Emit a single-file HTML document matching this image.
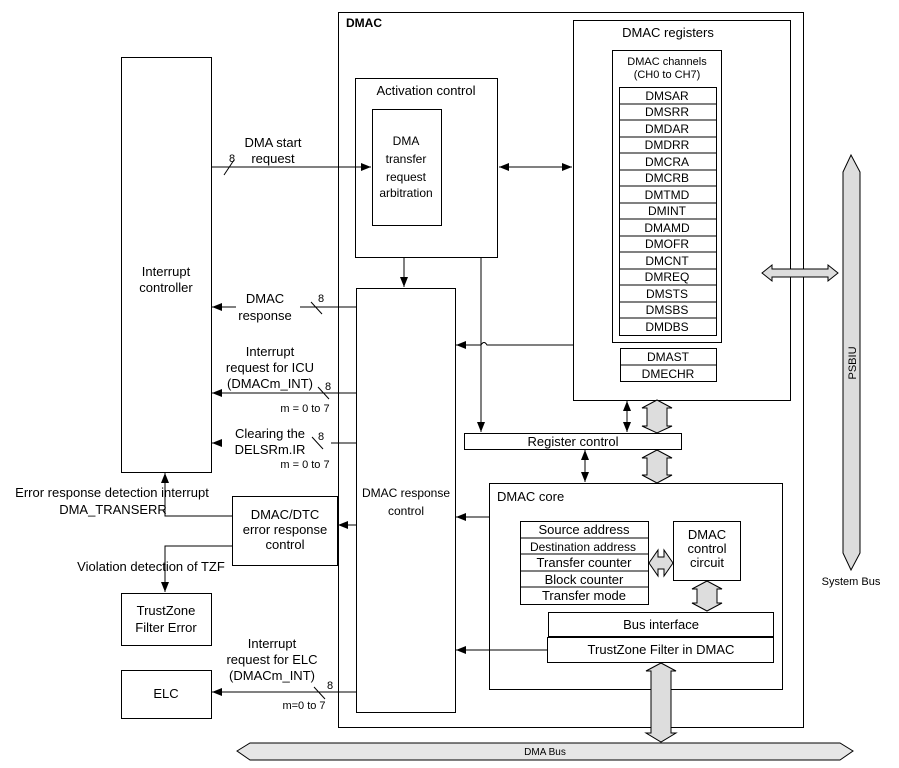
<!DOCTYPE html>
<html><head><meta charset="utf-8"><style>body{margin:0;background:#fff}svg{display:block}text{font-family:"Liberation Sans",sans-serif;fill:#000}</style></head><body>
<svg width="899" height="768" viewBox="0 0 899 768" xmlns="http://www.w3.org/2000/svg">
<defs>
<marker id="a" markerWidth="10" markerHeight="8" refX="10" refY="4" orient="auto" markerUnits="userSpaceOnUse"><path d="M0,0L10,4L0,8z" fill="#000"/></marker>
<marker id="b" markerWidth="10" markerHeight="8" refX="0" refY="4" orient="auto" markerUnits="userSpaceOnUse"><path d="M10,0L0,4L10,8z" fill="#000"/></marker>
</defs>
<g fill="none" stroke="#000" stroke-width="1">
<rect x="121.5" y="57.5" width="90" height="415"/>
<rect x="338.5" y="12.5" width="465" height="715"/>
<rect x="355.5" y="78.5" width="142" height="179"/>
<rect x="372.5" y="109.5" width="69" height="116"/>
<rect x="573.5" y="20.5" width="217" height="380"/>
<rect x="612.5" y="50.5" width="109" height="292"/>
<rect x="356.5" y="288.5" width="99" height="424"/>
<rect x="464.5" y="433.5" width="217" height="16"/>
<rect x="489.5" y="483.5" width="293" height="206"/>
<rect x="673.5" y="521.5" width="67" height="59"/>
<rect x="548.5" y="612.5" width="225" height="24"/>
<rect x="547.5" y="637.5" width="226" height="25"/>
<rect x="232.5" y="496.5" width="105" height="69"/>
<rect x="121.5" y="593.5" width="90" height="52"/>
<rect x="121.5" y="670.5" width="90" height="48"/>
<rect x="619.5" y="87.5" width="97" height="248"/>
<rect x="520.5" y="521.5" width="128" height="83"/>
<rect x="620.5" y="348.5" width="96" height="33"/>
<path d="M620,365H716"/>
<path d="M619,104H716M619,120H716M619,137H716M619,153H716M619,170H716M619,186H716M619,203H716M619,219H716M619,236H716M619,252H716M619,269H716M619,285H716M619,302H716M619,318H716"/>
<path d="M520,538H648M520,554H648M520,571H648M520,587H648"/>
<path d="M211,167H371" marker-end="url(#a)"/>
<path d="M224,175L234,160"/>
<path d="M499,167H572" marker-start="url(#b)" marker-end="url(#a)"/>
<path d="M404,258V287" marker-end="url(#a)"/>
<path d="M481,258V432" marker-end="url(#a)"/>
<path d="M356,307H300"/><path d="M236,307H212" marker-end="url(#a)"/>
<path d="M311,302L322,314"/>
<path d="M356,393H212" marker-end="url(#a)"/>
<path d="M318,387L329,399"/>
<path d="M356,443H331"/><path d="M222,443H212" marker-end="url(#a)"/>
<path d="M312,437L323,449"/>
<path d="M573,345H487Q484,340 481,345H456" marker-end="url(#a)"/>
<path d="M489,517H456" marker-end="url(#a)"/>
<path d="M547,650H456" marker-end="url(#a)"/>
<path d="M356,525H338" marker-end="url(#a)"/>
<path d="M232,516H165V473" marker-end="url(#a)"/>
<path d="M232,546H165V592" marker-end="url(#a)"/>
<path d="M356,692H212" marker-end="url(#a)"/>
<path d="M314,687L325,699"/>
<path d="M627,401V432" marker-start="url(#b)" marker-end="url(#a)"/>
<path d="M585,450V482" marker-start="url(#b)" marker-end="url(#a)"/>
</g>
<g fill="#ddd" stroke="#000" stroke-width="1">
<path d="M657,400L672,408H667V426H672L657,433L642,426H647V408H642Z"/>
<path d="M657,450L672,458H667V475H672L657,483L642,475H647V458H642Z"/>
<path d="M707,581L722,589H717V603H722L707,611L692,603H697V589H692Z"/>
<path d="M649,563L658,550V557H664V550L673,563L664,576V569H658V576Z"/>
<path d="M661,663L676,671H671V733H676L661,742L646,733H651V671H646Z"/>
<path d="M762,273L772,265V269H828V265L838,273L828,281V277H772V281Z"/>
<path d="M851,155L860,172V553L851,570L843,553V172L843,172Z"/>
<path d="M237,751L250,743H840L853,751L840,760H250Z" fill="#e6e6e6"/>
</g>
<g font-size="13" text-anchor="middle">
<text x="166" y="276">Interrupt</text><text x="166" y="292">controller</text>
<text x="364" y="27" font-weight="bold" font-size="12">DMAC</text>
<text x="426" y="95">Activation control</text>
<text x="406" y="145" font-size="12">DMA</text><text x="406" y="163" font-size="12">transfer</text><text x="406" y="181" font-size="12">request</text><text x="406" y="197" font-size="12">arbitration</text>
<text x="668" y="37">DMAC registers</text>
<text x="667" y="65" font-size="11">DMAC channels</text><text x="667" y="78" font-size="11">(CH0 to CH7)</text>
<g font-size="12">
<text x="667" y="100">DMSAR</text><text x="667" y="116">DMSRR</text><text x="667" y="133">DMDAR</text><text x="667" y="149">DMDRR</text><text x="667" y="166">DMCRA</text><text x="667" y="182">DMCRB</text><text x="667" y="199">DMTMD</text><text x="667" y="215">DMINT</text><text x="667" y="232">DMAMD</text><text x="667" y="248">DMOFR</text><text x="667" y="265">DMCNT</text><text x="667" y="281">DMREQ</text><text x="667" y="298">DMSTS</text><text x="667" y="314">DMSBS</text><text x="667" y="331">DMDBS</text>
<text x="668" y="361">DMAST</text><text x="668" y="378">DMECHR</text>
</g>
<text x="273" y="147">DMA start</text><text x="273" y="163">request</text>
<text x="232" y="162" font-size="11">8</text>
<text x="265" y="303">DMAC</text><text x="265" y="320">response</text><text x="321" y="302" font-size="11">8</text>
<text x="270" y="356">Interrupt</text><text x="270" y="372">request for ICU</text><text x="270" y="388">(DMACm_INT)</text><text x="328" y="390" font-size="11">8</text>
<text x="305" y="412" font-size="11">m = 0 to 7</text>
<text x="270" y="438">Clearing the</text><text x="270" y="454">DELSRm.IR</text><text x="321" y="440" font-size="11">8</text>
<text x="305" y="468" font-size="11">m = 0 to 7</text>
<text x="406" y="497" font-size="12">DMAC response</text><text x="406" y="515" font-size="12">control</text>
<text x="112" y="497">Error response detection interrupt</text><text x="113" y="514">DMA_TRANSERR</text>
<text x="285" y="519">DMAC/DTC</text><text x="285" y="534">error response</text><text x="285" y="549">control</text>
<text x="151" y="571">Violation detection of TZF</text>
<text x="166" y="615">TrustZone</text><text x="166" y="632">Filter Error</text>
<text x="166" y="698">ELC</text>
<text x="272" y="648">Interrupt</text><text x="272" y="664">request for ELC</text><text x="272" y="680">(DMACm_INT)</text><text x="330" y="689" font-size="11">8</text>
<text x="304" y="709" font-size="11">m=0 to 7</text>
<text x="573" y="446">Register control</text>
<text x="497" y="501" text-anchor="start">DMAC core</text>
<text x="584" y="534">Source address</text><text x="583" y="551" font-size="12">Destination address</text><text x="584" y="567">Transfer counter</text><text x="584" y="584">Block counter</text><text x="584" y="600">Transfer mode</text>
<text x="707" y="539">DMAC</text><text x="707" y="553">control</text><text x="707" y="567">circuit</text>
<text x="661" y="629">Bus interface</text>
<text x="661" y="654">TrustZone Filter in DMAC</text>
<text x="851" y="585" font-size="11">System Bus</text>
<text x="545" y="755" font-size="10">DMA Bus</text>
<text x="0" y="0" font-size="11" transform="translate(856,363) rotate(-90)">PSBIU</text>
</g>
</svg>
</body></html>
